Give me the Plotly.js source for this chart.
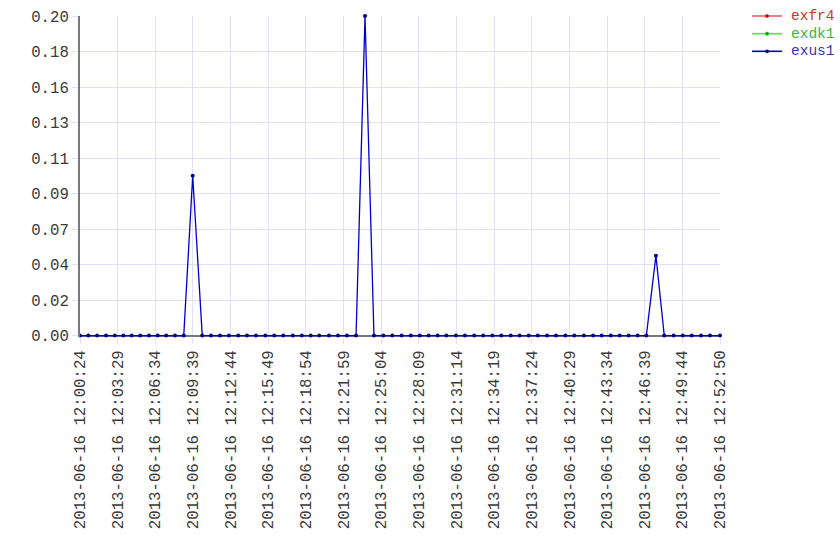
<!DOCTYPE html>
<html>
<head>
<meta charset="utf-8">
<script src="https://cdn.plot.ly/plotly-3.0.1.min.js"></script>
<style>html,body{margin:0;padding:0;background:#fff;}#chart{width:840px;height:560px;}</style>
</head>
<body>
<div id="chart"></div>
<script>
const times = [
"2013-06-16 12:00:24","2013-06-16 12:01:05","2013-06-16 12:01:48","2013-06-16 12:02:32","2013-06-16 12:03:15",
"2013-06-16 12:03:57","2013-06-16 12:04:38","2013-06-16 12:05:20","2013-06-16 12:06:03","2013-06-16 12:06:46",
"2013-06-16 12:07:28","2013-06-16 12:08:11","2013-06-16 12:08:54","2013-06-16 12:09:38","2013-06-16 12:10:25",
"2013-06-16 12:11:08","2013-06-16 12:11:52","2013-06-16 12:12:36","2013-06-16 12:13:22","2013-06-16 12:14:05",
"2013-06-16 12:14:49","2013-06-16 12:15:35","2013-06-16 12:16:19","2013-06-16 12:17:03","2013-06-16 12:17:50",
"2013-06-16 12:18:34","2013-06-16 12:19:18","2013-06-16 12:20:00","2013-06-16 12:20:48","2013-06-16 12:21:32",
"2013-06-16 12:22:16","2013-06-16 12:23:01","2013-06-16 12:23:45","2013-06-16 12:24:29","2013-06-16 12:25:15",
"2013-06-16 12:25:59","2013-06-16 12:26:45","2013-06-16 12:27:30","2013-06-16 12:28:14","2013-06-16 12:28:58",
"2013-06-16 12:29:42","2013-06-16 12:30:25","2013-06-16 12:31:12","2013-06-16 12:31:56","2013-06-16 12:32:42",
"2013-06-16 12:33:26","2013-06-16 12:34:11","2013-06-16 12:34:55","2013-06-16 12:35:41","2013-06-16 12:36:25",
"2013-06-16 12:37:10","2013-06-16 12:37:54","2013-06-16 12:38:40","2013-06-16 12:39:24","2013-06-16 12:40:10",
"2013-06-16 12:40:54","2013-06-16 12:41:41","2013-06-16 12:42:26","2013-06-16 12:43:08","2013-06-16 12:43:53",
"2013-06-16 12:44:37","2013-06-16 12:45:21","2013-06-16 12:46:05","2013-06-16 12:46:48","2013-06-16 12:47:35",
"2013-06-16 12:48:16","2013-06-16 12:49:02","2013-06-16 12:49:47","2013-06-16 12:50:31","2013-06-16 12:51:17",
"2013-06-16 12:52:01","2013-06-16 12:52:50"
];
const exus1 = [
0,0,0,0,0, 0,0,0,0,0, 0,0,0,0.1,0, 0,0,0,0,0, 0,0,0,0,0, 0,0,0,0,0,
0,0,0.2,0,0, 0,0,0,0,0, 0,0,0,0,0, 0,0,0,0,0, 0,0,0,0,0, 0,0,0,0,0,
0,0,0,0,0.05, 0,0,0,0,0, 0,0
];
const exfr4 = times.map(() => null);
const exdk1 = times.map(() => null);
const seriesNames = ["exfr4","exdk1","exus1"];
const xRange = ["2013-06-16 12:00:24","2013-06-16 12:52:50"];
const yRange = [-0.0009, 0.2];

const FONT = "Liberation Mono, Courier New, monospace";
const textColors = ["#cc3333","#33bb33","#3333bb"];
const lineColors = ["rgba(215,60,60,0.8)","rgba(60,200,60,0.8)","#0000cc"];
const markerColors = ["#cc0000","#00aa00","#000099"];
const ys = [exfr4, exdk1, exus1];

const traces = seriesNames.map((n,i) => ({
  type: "scatter", mode: "lines+markers",
  x: times, y: ys[i], name: n,
  line: {color: lineColors[i], width: 1.3},
  marker: {color: markerColors[i], size: 4},
  cliponaxis: false,
  showlegend: false, hoverinfo: "x+y"
}));

// custom legend (paper coords) built from series names
const legX0 = 1.05, legX1 = 1.097, legTextX = 1.109;
const legY = [1.0, 0.945, 0.89];
const shapes = [], annotations = [];
seriesNames.forEach((n,i) => {
  shapes.push({type:"line", xref:"paper", yref:"paper", x0:legX0, x1:legX1, y0:legY[i], y1:legY[i],
               line:{color: lineColors[i], width: 1.6}});
  shapes.push({type:"circle", xref:"paper", yref:"paper",
               x0:(legX0+legX1)/2-0.0025, x1:(legX0+legX1)/2+0.0025, y0:legY[i]-0.005, y1:legY[i]+0.005,
               fillcolor: markerColors[i], line:{color: markerColors[i], width: 0.5}});
  annotations.push({xref:"paper", yref:"paper", x:legTextX, y:legY[i], xanchor:"left", yanchor:"middle",
               text:n, showarrow:false, borderpad:0, font:{family:FONT, size:14.5, color:textColors[i]}});
});

const t0 = new Date("2013-06-16T12:00:24Z").getTime();
const t1 = new Date("2013-06-16T12:52:50Z").getTime();
const dtickX = (t1 - t0) / 17;

const layout = {
  width: 840, height: 560,
  margin: {l: 80, r: 120, t: 16, b: 222.5},
  paper_bgcolor: "#fff", plot_bgcolor: "#fff",
  font: {family: FONT, size: 15.7, color: "#3a3a3a"},
  showlegend: false,
  shapes: shapes, annotations: annotations,
  xaxis: {
    type: "date", range: xRange,
    tick0: xRange[0], dtick: dtickX,
    tickformat: "%Y-%m-%d %H:%M:%S", tickangle: -90,
    showgrid: true, gridcolor: "#e0e0fa", gridwidth: 1,
    showline: false,
    ticks: "outside", ticklen: 6, tickcolor: "#e0e0fa",
    tickfont: {family: FONT, size: 15.7, color: "#3a3a3a"},
    zeroline: false, fixedrange: true, automargin: false
  },
  yaxis: {
    range: yRange, tick0: 0, dtick: 0.2/9, tickformat: ".2f",
    showgrid: true, gridcolor: "#e0e0fa", gridwidth: 1,
    showline: true, linecolor: "#77777d", linewidth: 2,
    ticks: "outside", ticklen: 6, tickcolor: "#e0e0fa",
    tickfont: {family: FONT, size: 15.7, color: "#3a3a3a"},
    zeroline: true, zerolinecolor: "#77777d", zerolinewidth: 2,
    fixedrange: true, automargin: false
  }
};

Plotly.newPlot("chart", traces, layout, {displayModeBar: false, staticPlot: true});
</script>
</body>
</html>
